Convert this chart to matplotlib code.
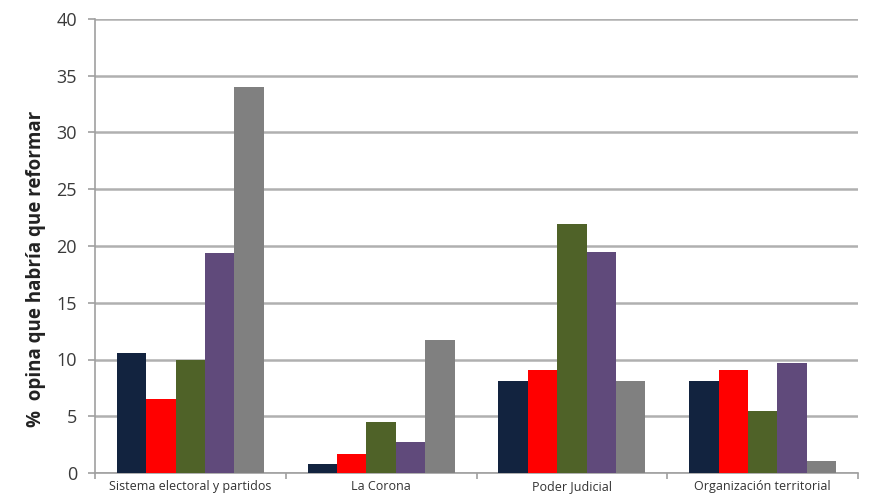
import numpy as np
import matplotlib.pyplot as plt

plt.rcParams["font.family"] = ["Open Sans", "DejaVu Sans"]

categories = ["Sistema electoral y partidos", "La Corona", "Poder Judicial", "Organización territorial"]
serie_1 = [10.6, 0.8, 8.1, 8.1]
serie_2 = [6.5, 1.7, 9.1, 9.1]
serie_3 = [10.0, 4.5, 21.9, 5.5]
serie_4 = [19.4, 2.7, 19.5, 9.7]
serie_5 = [34.0, 11.7, 8.1, 1.05]
y_ticks = [0, 5, 10, 15, 20, 25, 30, 35, 40]

series = [serie_1, serie_2, serie_3, serie_4, serie_5]
colors = ["#12233f", "#ff0000", "#4f6228", "#604a7b", "#808080"]

fig = plt.figure(figsize=(8.8, 4.95), dpi=100)
ax = fig.add_axes([95 / 880, 1 - 473 / 495, 763 / 880, 454 / 495])

x = np.arange(len(categories))
width = 0.77 / len(series)
for i, (vals, c) in enumerate(zip(series, colors)):
    ax.bar(x + (i - 2) * width, vals, width, color=c, zorder=3)

ax.set_xlim(-0.5, len(categories) - 0.5)
ax.set_ylim(0, 40)
ax.set_yticks(y_ticks)
ax.yaxis.grid(True, color="#b0b0b0", linewidth=1.8, zorder=0)

for side in ["top", "right"]:
    ax.spines[side].set_visible(False)
for side in ["left", "bottom"]:
    ax.spines[side].set_color("#a0a0a0")
    ax.spines[side].set_linewidth(1.2)

ax.tick_params(axis="y", colors="#a0a0a0", length=5, width=1.2, labelcolor="#3a3a3a",
               labelsize=13, pad=8)
ax.set_xticks(x)
ax.set_xticklabels(categories, fontsize=9, color="#333333")
ax.tick_params(axis="x", length=0, pad=5)
ax.set_xticks(np.arange(-0.5, len(categories), 1), minor=True)
ax.tick_params(axis="x", which="minor", length=4, color="#a0a0a0", width=1.2)

ax.set_ylabel("%  opina que habría que reformar", fontsize=13.5, fontweight="bold",
              color="#222222")
ax.yaxis.set_label_coords(-0.064, 0.45)

fig.savefig("out.png", dpi=100)
